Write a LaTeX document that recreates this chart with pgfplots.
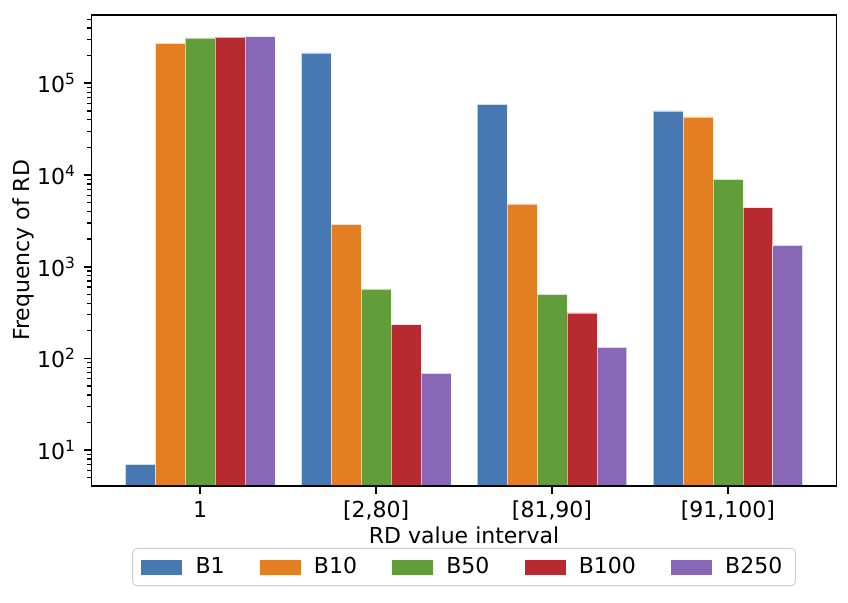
\documentclass[border=0pt]{standalone}
\usepackage{pgfplots}
\pgfplotsset{compat=1.18}
\usepackage{fontspec}
\setmainfont{DejaVu Sans}

\definecolor{cB1}{HTML}{4878B2}
\definecolor{cB10}{HTML}{E37E22}
\definecolor{cB50}{HTML}{619E3A}
\definecolor{cB100}{HTML}{B62A30}
\definecolor{cB250}{HTML}{8967B7}

\begin{document}
\begin{tikzpicture}
\fontsize{10}{12}\selectfont
\begin{axis}[
  scale only axis,
  width=338.6pt, height=214pt,
  axis on top,
  ybar=0pt, bar width=0.17,
  ymode=log, log basis y=10,
  ymin=4.08, ymax=5.56e5,
  xmin=-0.6175, xmax=3.6175,
  xtick={0,1,2,3},
  xticklabels={1,{[2,80]},{[81,90]},{[91,100]}},
  ytick={10,100,1000,10000,100000},
  yticklabels={10\textsuperscript{1},10\textsuperscript{2},10\textsuperscript{3},10\textsuperscript{4},10\textsuperscript{5}},
  minor ytick={5,6,7,8,9,20,30,40,50,60,70,80,90,200,300,400,500,600,700,800,900,
    2000,3000,4000,5000,6000,7000,8000,9000,20000,30000,40000,50000,60000,70000,80000,90000,
    200000,300000,400000,500000},
  tick align=outside, xtick pos=bottom, ytick pos=left,
  major tick length=3.5pt, minor tick length=2pt,
  every major tick/.append style={line width=0.8pt, black},
  every minor tick/.append style={line width=0.6pt, black},
  axis line style={line width=0.8pt},
  tick label style={font=\fontsize{10}{12}\selectfont},
  label style={font=\fontsize{10}{12}\selectfont},
  xlabel={RD value interval}, ylabel={Frequency of RD},
  xlabel style={yshift=4pt},
  ylabel style={yshift=-5.5pt},
  every axis plot/.append style={draw=white, draw opacity=0.6, line width=0.3pt},
  legend columns=5,
  legend style={at={(0.5,-0.132)}, anchor=north, draw=black!20, rounded corners=2pt,
    font=\fontsize{10}{12}\selectfont, inner xsep=4pt, inner ysep=2pt,
    /tikz/every odd column/.append style={column sep=4pt},
    /tikz/every even column/.append style={column sep=14pt}},
  legend image code/.code={\fill[#1,draw=none,sharp corners] (0pt,-3.4pt) rectangle (18.6pt,3.4pt);},
]
\coordinate (bl) at (rel axis cs:0,0);
\coordinate (tr) at (rel axis cs:1,1);
\addplot[fill=cB1] coordinates {(0,7.0) (1,2.14e5) (2,5.9e4) (3,4.99e4)};
\addplot[fill=cB10] coordinates {(0,2.73e5) (1,2900) (2,4830) (3,4.29e4)};
\addplot[fill=cB50] coordinates {(0,3.12e5) (1,571) (2,500) (3,8980)};
\addplot[fill=cB100] coordinates {(0,3.18e5) (1,233) (2,313) (3,4400)};
\addplot[fill=cB250] coordinates {(0,3.22e5) (1,68.8) (2,132) (3,1710)};
\legend{B1,B10,B50,B100,B250}
\end{axis}
\pgfresetboundingbox
\path ([shift={(-41.6pt,-52.9pt)}]bl) rectangle ([shift={(5.2pt,6.8pt)}]tr);
\end{tikzpicture}
\end{document}
